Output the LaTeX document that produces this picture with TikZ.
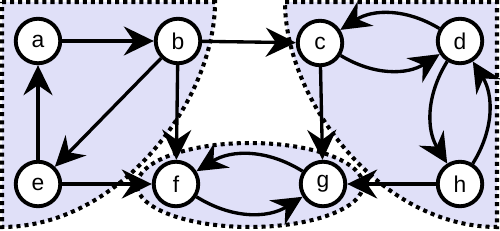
\documentclass[tikz,border=0pt]{standalone}
\usepackage{fontspec}
\setmainfont{Liberation Sans}
\usepackage{xcolor}
\usepackage{tikz}
\usetikzlibrary{arrows.meta}
\definecolor{sccfill}{RGB}{224,224,248}

\begin{document}
\begin{tikzpicture}[x=0.02cm,y=0.02cm,
  vertex/.style={draw,circle,fill=white,line width=2.2pt,minimum size=0.89cm,inner sep=0pt,font=\fontsize{13}{15}\selectfont},
  arrow/.style={-{Stealth[length=0.6cm,width=0.58cm,inset=0.2cm]},line width=1.9pt},
  scc/.style={fill=sccfill,draw,line width=2.3pt,dash pattern=on 2.3pt off 2.3pt}
]
\useasboundingbox (0,0) rectangle (500,230);
% strongly connected components
\filldraw[scc] (2,228) -- (215,228) .. controls (215,130) and (120,3) .. (2,3) -- cycle;
\filldraw[scc] (285,228) -- (497,228) -- (497,3) .. controls (380,3) and (285,130) .. (285,228) -- cycle;
\filldraw[scc] (250,45) ellipse [x radius=2.26cm,y radius=0.84cm];

\node[vertex] (a) at (38,189) {a};
\node[vertex] (b) at (178,189) {b};
\node[vertex] (c) at (320,187) {c};
\node[vertex] (d) at (460,189) {d};
\node[vertex] (e) at (38,46) {e};
\node[vertex] (f) at (176,46) {f};
\node[vertex] (g) at (323,46) {g};
\node[vertex] (h) at (460,46) {h};

\draw[arrow] (a) -- (b);
\draw[arrow] (b) -- (c);
\draw[arrow] (b) -- (e);
\draw[arrow] (b) -- (f);
\draw[arrow] (e) -- (a);
\draw[arrow] (e) -- (f);
\draw[arrow] (c) -- (g);
\draw[arrow] (h) -- (g);
\draw[arrow] (c) to[bend right=32] (d);
\draw[arrow] (d) to[bend right=32] (c);
\draw[arrow] (d) to[bend right=32] (h);
\draw[arrow] (h) to[bend right=32] (d);
\draw[arrow] (f) to[bend right=32] (g);
\draw[arrow] (g) to[bend right=32] (f);
\end{tikzpicture}
\end{document}
